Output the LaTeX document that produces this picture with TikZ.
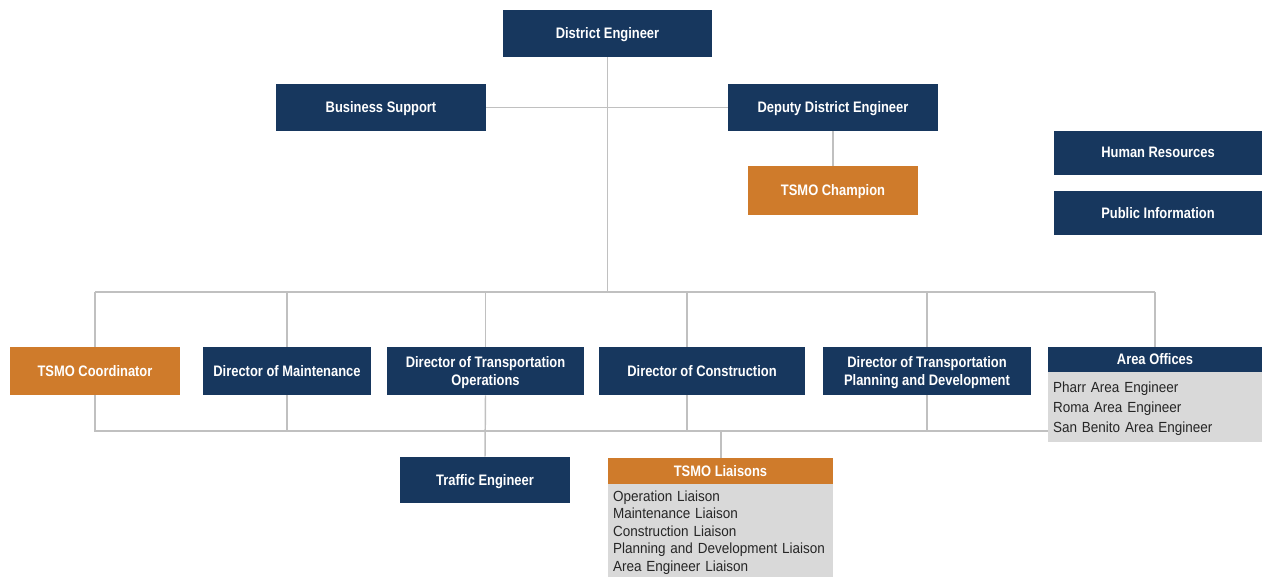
\documentclass[tikz,border=0pt]{standalone}
\usepackage{fontspec}
\usetikzlibrary{backgrounds}
\newfontfamily\hdfont{Liberation Sans}[FakeStretch=0.85]
\newfontfamily\bdfont{Liberation Sans}[FakeStretch=0.92]
\newcommand\pxu{0.75pt}
\newcommand\bdsp{\fontdimen2\font=2.4pt\relax}
\definecolor{navyC}{HTML}{17375E}
\definecolor{orangeC}{HTML}{CF7B2B}
\definecolor{grayC}{HTML}{D9D9D9}
\definecolor{lineC}{HTML}{C0C0C0}
\begin{document}
\begin{tikzpicture}[x=0.75pt,y=-0.75pt,
  wh/.style 2 args={minimum width=#1*\pxu, minimum height=#2*\pxu},
  box/.style={fill=navyC, text=white, font=\hdfont\bfseries\fontsize{11.4}{13.5}\selectfont, align=center, inner sep=0pt, text depth=0.5pt},
  obox/.style={box, fill=orangeC},
  body/.style={text=black!85, align=left, inner xsep=5*\pxu, inner ysep=0pt},
  conn/.style={draw=lineC, line width=1.1pt}]
\useasboundingbox (0,0) rectangle (1262,577);
% nodes
\node[box, wh={209}{47}] (de) at (607.5,33.5) {District Engineer};
\node[box, wh={210}{47}] (bs) at (381,107.5) {Business Support};
\node[box, wh={210}{47}] (dde) at (833,107.5) {Deputy District Engineer};
\node[obox, wh={170}{49}] (champ) at (833,190.5) {TSMO Champion};
\node[box, wh={208}{44}] (hr) at (1158,153) {Human Resources};
\node[box, wh={208}{44}] (pi) at (1158,213) {Public Information};
\node[obox, wh={170}{48}] (coord) at (95,371) {TSMO Coordinator};
\node[box, wh={168}{48}] (dom) at (287,371) {Director of Maintenance};
\node[box, wh={197}{48}] (dto) at (485.5,371) {Director of Transportation\\Operations};
\node[box, wh={206}{48}] (doc) at (702,371) {Director of Construction};
\node[box, wh={208}{48}] (dtpd) at (927,371) {Director of Transportation\\Planning and Development};
\node[box, wh={214}{25}] (aoh) at (1155,359.5) {Area Offices};
\node[body, wh={214}{68}, text width=204*\pxu, anchor=north, font=\bdfont\fontsize{11}{15}\selectfont\bdsp] (aob) at ([yshift=-2*\pxu]aoh.south) {Pharr Area Engineer\\Roma Area Engineer\\San Benito Area Engineer};
\node[box, wh={170}{46}] (te) at (485,480) {Traffic Engineer};
\node[obox, wh={225}{26}] (lh) at (720.5,471) {TSMO Liaisons};
\node[body, wh={225}{90}, text width=215*\pxu, anchor=north, font=\bdfont\fontsize{11}{13.2}\selectfont\bdsp] (lb) at ([yshift=-3*\pxu]lh.south) {Operation Liaison\\Maintenance Liaison\\Construction Liaison\\Planning and Development Liaison\\Area Engineer Liaison};
% connectors
\coordinate (ub) at (607.5,292);
\coordinate (docx) at (687,292);
\coordinate (lbus) at (95,431);
\coordinate (lx) at (721,431);
\begin{scope}[on background layer]
\fill[grayC] ([yshift=0.5pt]aoh.south west) rectangle ([yshift=0.5pt]aoh.south east |- aob.south);
\fill[grayC] ([yshift=0.5pt]lh.south west) rectangle ([yshift=0.5pt]lh.south east |- lb.south);
\draw[conn] (de.south) -- (ub);
\draw[conn] (bs.east) -- (dde.west);
\draw[conn] (dde.south) -- (champ.north);
\draw[conn] (coord.north |- ub) -- (aoh.north |- ub);
\foreach \n in {coord,dom,dto,dtpd,aoh} \draw[conn] (\n.north |- ub) -- (\n.north);
\draw[conn] (docx) -- (docx |- doc.north);
\draw[conn] (coord.south) -- (coord.south |- lbus) -- (aob.west |- lbus);
\draw[conn] (dom.south) -- (dom.south |- lbus);
\draw[conn] (docx |- doc.south) -- (docx |- lbus);
\draw[conn] (dtpd.south) -- (dtpd.south |- lbus);
\draw[conn] (dto.south) -- (te.north);
\draw[conn] (lx) -- (lx |- lh.north);
\end{scope}
\end{tikzpicture}
\end{document}
